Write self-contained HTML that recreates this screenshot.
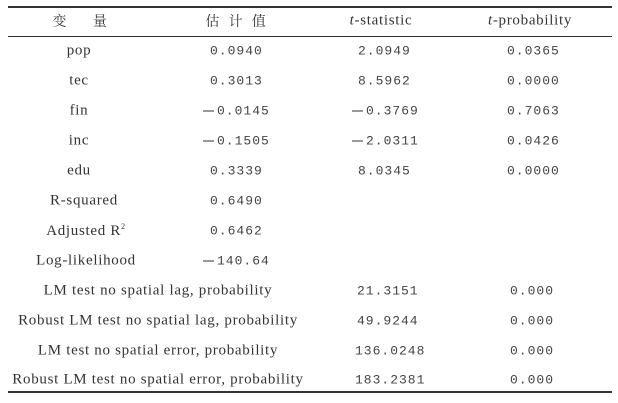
<!DOCTYPE html>
<html><head><meta charset="utf-8">
<style>
html,body{margin:0;padding:0;background:#fff;}
#t{position:relative;width:618px;height:403px;overflow:hidden;color:#333;font-family:"Liberation Serif","Noto Serif CJK SC",serif;font-size:15px;letter-spacing:0.7px;}
.r{position:absolute;left:8px;width:604px;background:#333;}
.c{position:absolute;white-space:nowrap;transform:translate(-50%,-50%);}
.n{position:absolute;white-space:nowrap;transform:translateY(-50%);font-family:"Liberation Mono",monospace;font-size:13px;letter-spacing:1px;color:#444;}
.mi{display:inline-block;width:11px;height:1.2px;background:#333;vertical-align:middle;margin-right:3px;}
</style></head><body>
<div id="t">
<div class="r" style="top:6px;height:2px"></div>
<div class="r" style="top:36px;height:1px"></div>
<div class="r" style="top:391px;height:2px"></div>

<div class="c" style="left:80px;top:21px;font-family:'Noto Serif CJK SC',serif;font-size:14px">变&nbsp;&nbsp;&nbsp;&nbsp;&nbsp;&nbsp;量</div>
<div class="c" style="left:236px;top:21px;font-family:'Noto Serif CJK SC',serif;font-size:14px">估&nbsp;&nbsp;计&nbsp;&nbsp;值</div>
<div class="c" style="left:381px;top:21px"><i>t</i>-statistic</div>
<div class="c" style="left:530px;top:21px"><i>t</i>-probability</div>

<div class="c" style="left:79px;top:51px">pop</div>
<div class="n" style="left:210px;top:51px">0.0940</div>
<div class="n" style="left:358px;top:51px">2.0949</div>
<div class="n" style="left:507px;top:51px">0.0365</div>

<div class="c" style="left:79px;top:81px">tec</div>
<div class="n" style="left:210px;top:81px">0.3013</div>
<div class="n" style="left:358px;top:81px">8.5962</div>
<div class="n" style="left:507px;top:81px">0.0000</div>

<div class="c" style="left:79px;top:111px">fin</div>
<div class="n" style="left:203px;top:111px"><span class="mi"></span>0.0145</div>
<div class="n" style="left:352px;top:111px"><span class="mi"></span>0.3769</div>
<div class="n" style="left:507px;top:111px">0.7063</div>

<div class="c" style="left:79px;top:141px">inc</div>
<div class="n" style="left:203px;top:141px"><span class="mi"></span>0.1505</div>
<div class="n" style="left:352px;top:141px"><span class="mi"></span>2.0311</div>
<div class="n" style="left:507px;top:141px">0.0426</div>

<div class="c" style="left:79px;top:171px">edu</div>
<div class="n" style="left:210px;top:171px">0.3339</div>
<div class="n" style="left:358px;top:171px">8.0345</div>
<div class="n" style="left:507px;top:171px">0.0000</div>

<div class="c" style="left:84px;top:201px">R-squared</div>
<div class="n" style="left:210px;top:201px">0.6490</div>

<div class="c" style="left:86px;top:231px">Adjusted R<sup style="font-size:8px">2</sup></div>
<div class="n" style="left:210px;top:231px">0.6462</div>

<div class="c" style="left:86px;top:261px">Log-likelihood</div>
<div class="n" style="left:203px;top:261px"><span class="mi"></span>140.64</div>

<div class="c" style="left:158px;top:291px">LM test no spatial lag, probability</div>
<div class="n" style="left:357px;top:291px">21.3151</div>
<div class="n" style="left:510px;top:291px">0.000</div>

<div class="c" style="left:158px;top:321px">Robust LM test no spatial lag, probability</div>
<div class="n" style="left:357px;top:321px">49.9244</div>
<div class="n" style="left:510px;top:321px">0.000</div>

<div class="c" style="left:158px;top:351px">LM test no spatial error, probability</div>
<div class="n" style="left:355px;top:351px">136.0248</div>
<div class="n" style="left:510px;top:351px">0.000</div>

<div class="c" style="left:158px;top:380px">Robust LM test no spatial error, probability</div>
<div class="n" style="left:355px;top:380px">183.2381</div>
<div class="n" style="left:510px;top:380px">0.000</div>
</div>
</body></html>
